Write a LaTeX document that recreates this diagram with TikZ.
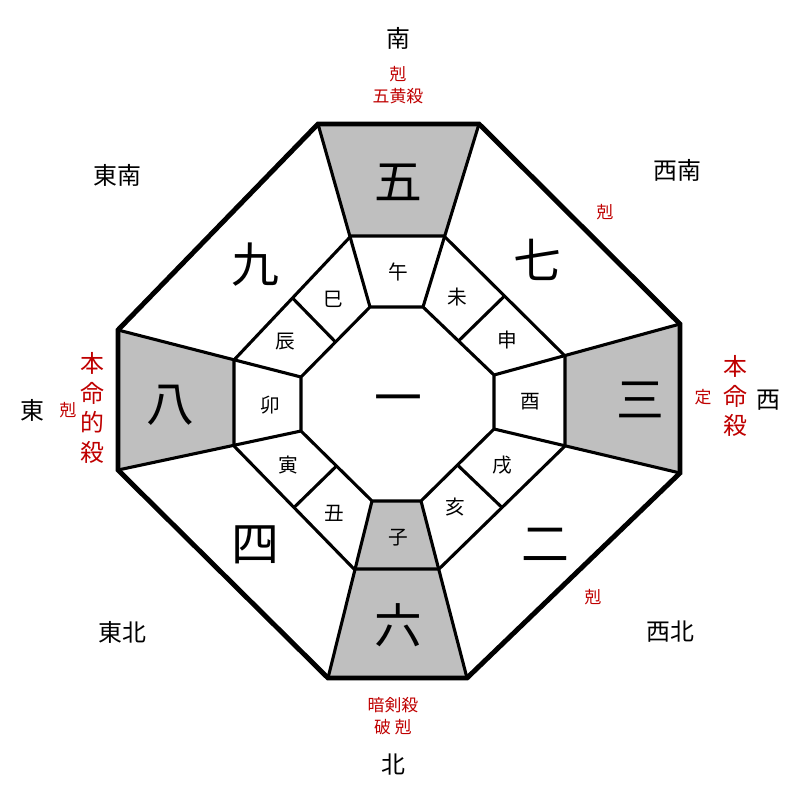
\documentclass[tikz,border=0pt]{standalone}
\usepackage{fontspec}
\newfontfamily\cjk{Noto Sans CJK JP}
\usetikzlibrary{calc}

\begin{document}
\begin{tikzpicture}[x=0.025cm, y=-0.025cm,
    big/.style={font=\cjk\fontsize{34}{34}\selectfont},
    branch/.style={font=\cjk\fontsize{14}{14}\selectfont},
    dir/.style={font=\cjk\fontsize{17}{17}\selectfont},
    redmark/.style={font=\cjk\fontsize{12}{14}\selectfont, text=red!75!black, align=center, inner sep=0pt},
    thickline/.style={line width=3.5pt, line join=miter},
    thinline/.style={line width=2.2pt, line join=miter}]
    \useasboundingbox (0,0) rectangle (800,800);

    % Three octagons: outer, middle, inner
    \coordinate (o1) at (318,124); \coordinate (o2) at (479,124);
    \coordinate (o3) at (680,324); \coordinate (o4) at (680,473);
    \coordinate (o5) at (467,678); \coordinate (o6) at (328,678);
    \coordinate (o7) at (118,470); \coordinate (o8) at (118,330);
    \coordinate (m1) at (351,236); \coordinate (m2) at (444,236);
    \coordinate (m3) at (565,356); \coordinate (m4) at (565,446);
    \coordinate (m5) at (439,569); \coordinate (m6) at (354,569);
    \coordinate (m7) at (234,446); \coordinate (m8) at (234,360);
    \coordinate (i1) at (370,307); \coordinate (i2) at (423,307);
    \coordinate (i3) at (494,375); \coordinate (i4) at (494,429);
    \coordinate (i5) at (421,501); \coordinate (i6) at (372,501);
    \coordinate (i7) at (301,431); \coordinate (i8) at (301,377);

    % Grey cells
    \fill[gray!50] (o1) -- (o2) -- (m2) -- (m1) -- cycle;
    \fill[gray!50] (o3) -- (o4) -- (m4) -- (m3) -- cycle;
    \fill[gray!50] (o5) -- (o6) -- (m6) -- (m5) -- cycle;
    \fill[gray!50] (o7) -- (o8) -- (m8) -- (m7) -- cycle;
    \fill[gray!50] (m5) -- (m6) -- (i6) -- (i5) -- cycle;

    % Rings
    \draw[thinline] (m1) -- (m2) -- (m3) -- (m4) -- (m5) -- (m6) -- (m7) -- (m8) -- cycle;
    \draw[thinline] (i1) -- (i2) -- (i3) -- (i4) -- (i5) -- (i6) -- (i7) -- (i8) -- cycle;
    % Radial spokes
    \foreach \k in {1,...,8}
        \draw[thinline] (i\k) -- (o\k);
    % Splits of the corner branch cells
    \draw[thinline] ($(i2)!0.5!(i3)$) -- ($(m2)!0.5!(m3)$);
    \draw[thinline] ($(i4)!0.5!(i5)$) -- ($(m4)!0.5!(m5)$);
    \draw[thinline] ($(i6)!0.5!(i7)$) -- ($(m6)!0.5!(m7)$);
    \draw[thinline] ($(i8)!0.5!(i1)$) -- ($(m8)!0.5!(m1)$);
    \draw[thickline] (o1) -- (o2) -- (o3) -- (o4) -- (o5) -- (o6) -- (o7) -- (o8) -- cycle;

    % Stars
    \node[big] (s5) at (398,182) {五};
    \node[big] (s9) at (255,265) {九};
    \node[big] (s7) at (537,260) {七};
    \node[big] (s8) at (170,405) {八};
    \node[big] (s1) at (398,405) {一};
    \node[big] (s3) at (640,400) {三};
    \node[big] (s4) at (255,545) {四};
    \node[big] (s2) at (545,545) {二};
    \node[big] (s6) at (398,625) {六};

    % Branches
    \node[branch] (wu)   at (398,272) {午};
    \node[branch] (wei)  at (457,297) {未};
    \node[branch] (si)   at (333,299) {巳};
    \node[branch] (shen) at (507,340) {申};
    \node[branch] (chen) at (285,342) {辰};
    \node[branch] (you)  at (530,402) {酉};
    \node[branch] (mao)  at (270,405) {卯};
    \node[branch] (xu)   at (502,465) {戌};
    \node[branch] (yin)  at (288,465) {寅};
    \node[branch] (hai)  at (455,507) {亥};
    \node[branch] (chou) at (334,513) {丑};
    \node[branch] (zi)   at (398,538) {子};

    % Directions
    \node[dir] (south) at (398,38) {南};
    \node[dir] (north) at (393,765) {北};
    \node[dir] (east)  at (32,410) {東};
    \node[dir] (west)  at (768,400) {西};
    \node[dir] (se) at (117,175) {東南};
    \node[dir] (sw) at (677,170) {西南};
    \node[dir] (ne) at (122,632) {東北};
    \node[dir] (nw) at (670,632) {西北};

    % Red marks
    \node[redmark] (mS)  at (398,85) {剋\\[2pt]五黄殺};
    \node[redmark] (mSW) at (605,212) {剋};
    \node[redmark] (mNW) at (593,597) {剋};
    \node[redmark] (mE)  at (68,410) {剋};
    \node[redmark, font=\cjk\fontsize{17}{17}\selectfont] (mE2) at (92,408) {本\\[4pt]命\\[4pt]的\\[4pt]殺};
    \node[redmark, font=\cjk\fontsize{17}{17}\selectfont] (mW2) at (735,396) {本\\[4pt]命\\[4pt]殺};
    \node[redmark] (mW)  at (703,397) {定};
    \node[redmark] (mN)  at (393,716) {暗剣殺\\[2pt]破\ 剋};
\end{tikzpicture}
\end{document}
